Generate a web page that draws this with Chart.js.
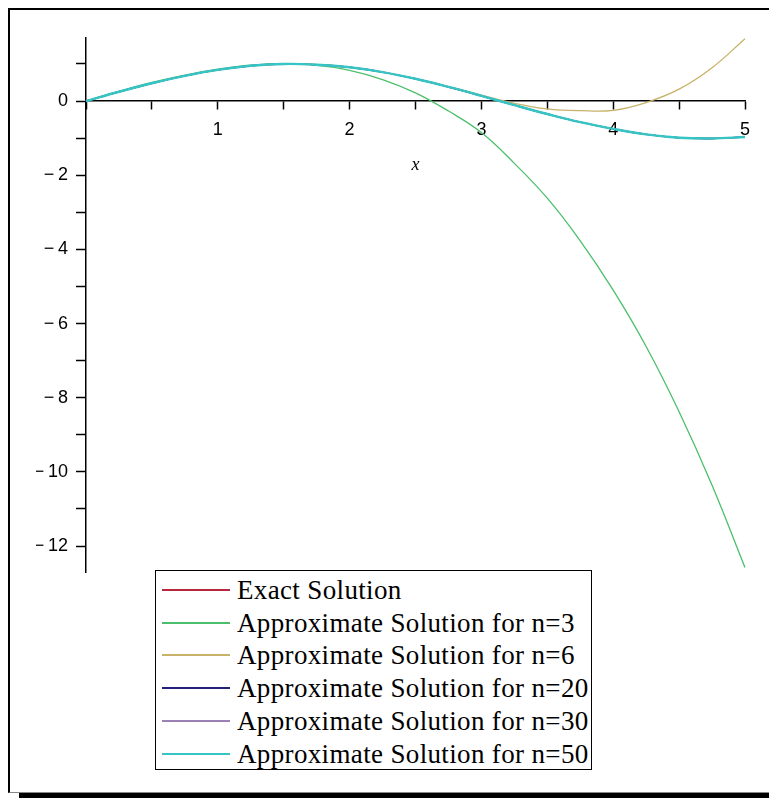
<!DOCTYPE html>
<html>
<head>
<meta charset="utf-8">
<script src="https://cdn.jsdelivr.net/npm/chart.js@4.4.0/dist/chart.umd.min.js"></script>
<style>
  html, body { margin: 0; padding: 0; background: #fff; overflow: hidden; }
  #wrap { position: relative; width: 769px; height: 798px; overflow: hidden; }
  #frame { position: absolute; left: 8px; top: 8px; width: 800px; height: 782px;
           border-left: 2px solid #000; border-top: 2px solid #000; border-bottom: 1px solid #888; }
  #shadow { position: absolute; left: 19px; top: 793px; width: 760px; height: 5px; background: #000; }
  #chart { position: absolute; left: 0; top: 0; }
  #legend { position: absolute; left: 155px; top: 570px; width: 437px; height: 200px;
            border: 1.5px solid #000; background: #fff; box-sizing: border-box;
            font-family: "Liberation Serif", serif; font-size: 27px; letter-spacing: 0.35px; color: #000; }
  .row { position: absolute; left: 0; height: 32px; line-height: 32px; white-space: nowrap; }
  .row span.line { position: absolute; left: 6px; top: 15px; width: 68px; height: 2px; }
  .row span.txt { position: absolute; left: 81px; top: 0; }
</style>
</head>
<body>
<div id="wrap">
  <div id="frame"></div>
  <div id="shadow"></div>
  <canvas id="chart" width="769" height="798"></canvas>
  <div id="legend"></div>
</div>
<script>
// x values
var xs = [0, 0.25, 0.5, 0.75, 1, 1.25, 1.5, 1.75, 2, 2.25, 2.5, 2.75, 3, 3.25, 3.5, 3.75, 4, 4.25, 4.5, 4.75, 5];

// series (exact, n=20, n=30 sit under the n=50 curve)
var exact = [0, 0.25, 0.48, 0.68, 0.84, 0.95, 1.0, 0.98, 0.91, 0.78, 0.6, 0.38, 0.14, -0.11, -0.35, -0.57, -0.75, -0.9, -0.99, -1.01, -0.97];
var n3    = [0, 0.26, 0.5, 0.7, 0.86, 0.97, 1.0, 0.96, 0.83, 0.58, 0.22, -0.27, -0.85, -1.68, -2.62, -3.77, -5.1, -6.62, -8.38, -10.36, -12.58];
var n6    = [0, 0.25, 0.48, 0.68, 0.84, 0.95, 1.0, 0.98, 0.91, 0.78, 0.6, 0.39, 0.16, -0.06, -0.21, -0.26, -0.25, -0.04, 0.32, 0.9, 1.68];
var n20   = [0, 0.25, 0.48, 0.68, 0.84, 0.95, 1.0, 0.98, 0.91, 0.78, 0.6, 0.38, 0.14, -0.11, -0.35, -0.57, -0.75, -0.9, -0.99, -1.01, -0.97];
var n30   = [0, 0.25, 0.48, 0.68, 0.84, 0.95, 1.0, 0.98, 0.91, 0.78, 0.6, 0.38, 0.14, -0.11, -0.35, -0.57, -0.75, -0.9, -0.99, -1.01, -0.97];
var n50   = [0, 0.25, 0.48, 0.68, 0.84, 0.95, 1.0, 0.98, 0.91, 0.78, 0.6, 0.38, 0.14, -0.11, -0.35, -0.57, -0.75, -0.9, -0.99, -1.01, -0.97];

var names = ["Exact Solution", "Approximate Solution for n=3", "Approximate Solution for n=6",
             "Approximate Solution for n=20", "Approximate Solution for n=30", "Approximate Solution for n=50"];
var series = [exact, n3, n6, n20, n30, n50];
var colors = ["#b8283c", "#4cbf6c", "#c8b26a", "#22227a", "#9a80b4", "#36c4c4"];
var widths = [1.4, 1.3, 1.3, 1.4, 1.4, 2.4];

var yRange = { min: -12.7, max: 1.7 };

var datasets = [];
for (var i = 0; i < series.length; i++) {
    var pts = [];
    for (var k = 0; k < xs.length; k++) pts.push({ x: xs[k], y: series[i][k] });
    datasets.push({
        label: names[i],
        data: pts,
        borderColor: colors[i],
        borderWidth: widths[i],
        pointRadius: 0,
        tension: 0.4,
        fill: false,
        clip: false,
        order: series.length - i
    });
}

function fmtNum(v) {
    return v < 0 ? "\u2212\u2009" + String(-v) : String(v);
}

var chart = new Chart(document.getElementById("chart"), {
    type: "line",
    data: { datasets: datasets },
    options: {
        responsive: false,
        animation: false,
        layout: { padding: { left: 36, right: 24, top: 38, bottom: 226 } },
        plugins: { legend: { display: false }, tooltip: { enabled: false } },
        scales: {
            x: {
                type: "linear",
                position: { y: 0 },
                min: 0, max: 5,
                grid: { drawOnChartArea: false, drawTicks: true, tickLength: 8, color: "#000", tickWidth: 1.5 },
                border: { display: true, color: "#000", width: 1.5 },
                ticks: {
                    stepSize: 0.5, autoSkip: false, maxRotation: 0, padding: 10, color: "#000",
                    font: { family: "Liberation Sans", size: 18 },
                    callback: function (v) { return (v > 0 && Number.isInteger(v)) ? String(v) : ""; }
                },
                title: { display: true, text: "x", color: "#000", padding: { top: 4, bottom: 0 },
                         font: { family: "Liberation Serif", size: 18, style: "italic" } }
            },
            y: {
                type: "linear",
                position: "left",
                min: yRange.min, max: yRange.max,
                afterFit: function (s) { s.width = 50; },
                grid: { drawOnChartArea: false, drawTicks: true, tickLength: 10, color: "#000", tickWidth: 1.5 },
                border: { display: true, color: "#000", width: 1.5 },
                ticks: {
                    stepSize: 1, includeBounds: false, autoSkip: false, padding: 8, color: "#000",
                    font: { family: "Liberation Sans", size: 18 },
                    callback: function (v) { return (v % 2 === 0) ? fmtNum(v) : ""; }
                }
            }
        }
    }
});

// legend box
var lg = document.getElementById("legend");
for (var j = 0; j < names.length; j++) {
    var row = document.createElement("div");
    row.className = "row";
    row.style.top = (3 + j * 32.7) + "px";
    row.innerHTML = '<span class="line" style="background:' + colors[j] + '"></span><span class="txt">' + names[j] + '</span>';
    lg.appendChild(row);
}
</script>
</body>
</html>
